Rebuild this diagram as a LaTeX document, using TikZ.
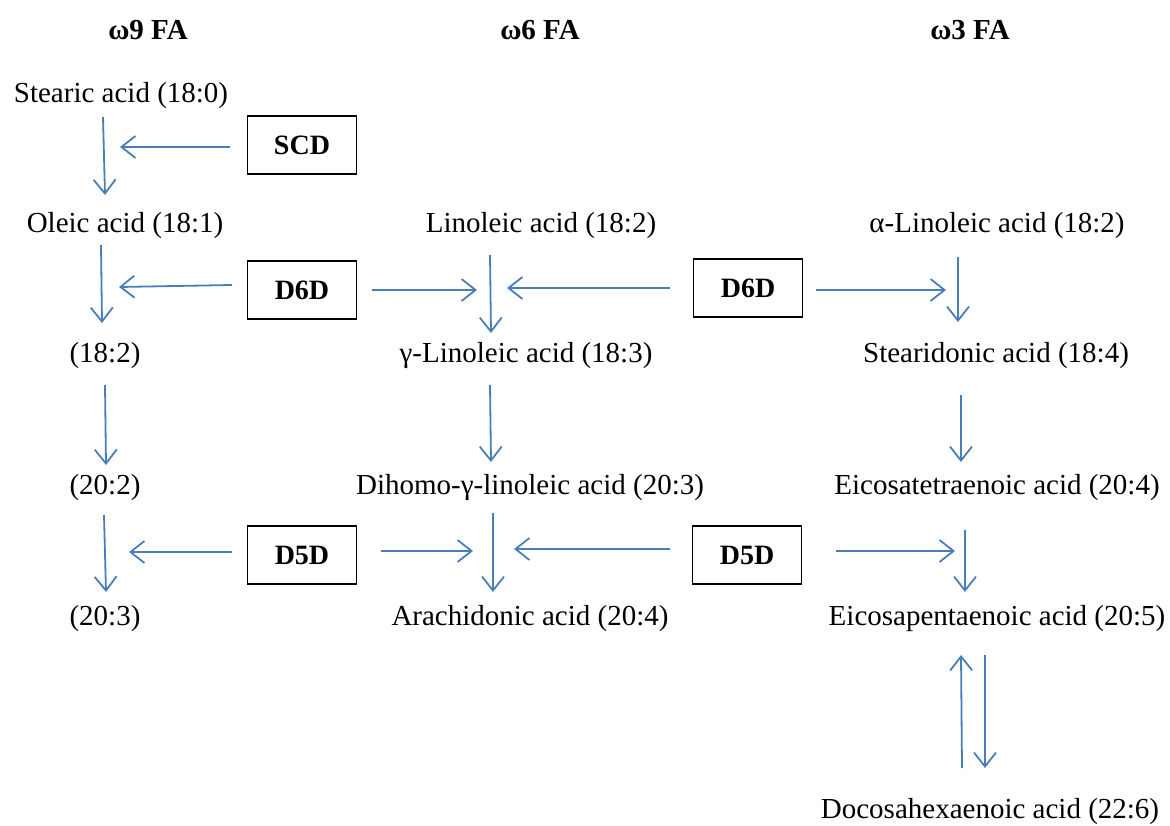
\documentclass[tikz,border=0pt]{standalone}
\usepackage{fontspec}
\setmainfont{Liberation Serif}
\usetikzlibrary{arrows.meta}
\definecolor{arr}{RGB}{74,126,187}
\begin{document}
\begin{tikzpicture}[x=1pt,y=-1pt,
  lbl/.style={font=\fontsize{29}{33}\selectfont, inner sep=0pt},
  hdr/.style={font=\fontsize{29}{33}\selectfont\bfseries, inner sep=0pt},
  enz/.style={draw, line width=1.2pt, minimum width=109pt, minimum height=58pt, inner sep=0pt, font=\fontsize{28}{32}\selectfont\bfseries},
  flow/.style={draw=arr, line width=1.8pt, -{Straight Barb[length=14pt,width=22pt,line width=1.8pt]}}]
\useasboundingbox (0,0) rectangle (1170,826);
% headers
\node[hdr] (h9) at (148,30) {ω9 FA};
\node[hdr] (h6) at (540,30) {ω6 FA};
\node[hdr] (h3) at (970,30) {ω3 FA};
% column 1
\node[lbl] (sa) at (121,96) {Stearic acid (18:0)};
\node[lbl] (oa) at (125,226) {Oleic acid (18:1)};
\node[lbl] (c182) at (105,356) {(18:2)};
\node[lbl] (c202) at (105,488) {(20:2)};
\node[lbl] (c203) at (105,619) {(20:3)};
% column 2
\node[lbl] (la) at (541,226) {Linoleic acid (18:2)};
\node[lbl] (gla) at (526,356) {γ-Linoleic acid (18:3)};
\node[lbl] (dgla) at (530,488) {Dihomo-γ-linoleic acid (20:3)};
\node[lbl] (ara) at (530,619) {Arachidonic acid (20:4)};
% column 3
\node[lbl] (ala) at (997,226) {α-Linoleic acid (18:2)};
\node[lbl] (sda) at (996,356) {Stearidonic acid (18:4)};
\node[lbl] (eta) at (997,488) {Eicosatetraenoic acid (20:4)};
\node[lbl] (epa) at (997,619) {Eicosapentaenoic acid (20:5)};
\node[lbl] (dha) at (990,812) {Docosahexaenoic acid (22:6)};
% enzymes
\node[enz] (scd) at (302,145) {SCD};
\node[enz] (d6a) at (302,290) {D6D};
\node[enz] (d6b) at (748,288) {D6D};
\node[enz] (d5a) at (302,555) {D5D};
\node[enz] (d5b) at (747,555) {D5D};
% column 1 arrows
\draw[flow] (103,117) -- (105,195);
\draw[flow] (230,147) -- (120,147);
\draw[flow] (101,245) -- (102,323);
\draw[flow] (232,285) -- (119,287);
\draw[flow] (105,385) -- (106,465);
\draw[flow] (104,515) -- (106,592);
\draw[flow] (232,552) -- (129,552);
% column 2 arrows
\draw[flow] (372,290) -- (477,290);
\draw[flow] (490,255) -- (491,333);
\draw[flow] (670,288) -- (507,288);
\draw[flow] (490,385) -- (491,462);
\draw[flow] (381,551) -- (473,551);
\draw[flow] (493,513) -- (493,592);
\draw[flow] (670,549) -- (514,549);
% column 3 arrows
\draw[flow] (816,290) -- (946,290);
\draw[flow] (958,257) -- (958,322);
\draw[flow] (961,395) -- (961,462);
\draw[flow] (836,551) -- (955,551);
\draw[flow] (965,530) -- (965,592);
\draw[flow] (962,768) -- (961,655);
\draw[flow] (985,655) -- (985,768);
\end{tikzpicture}
\end{document}
